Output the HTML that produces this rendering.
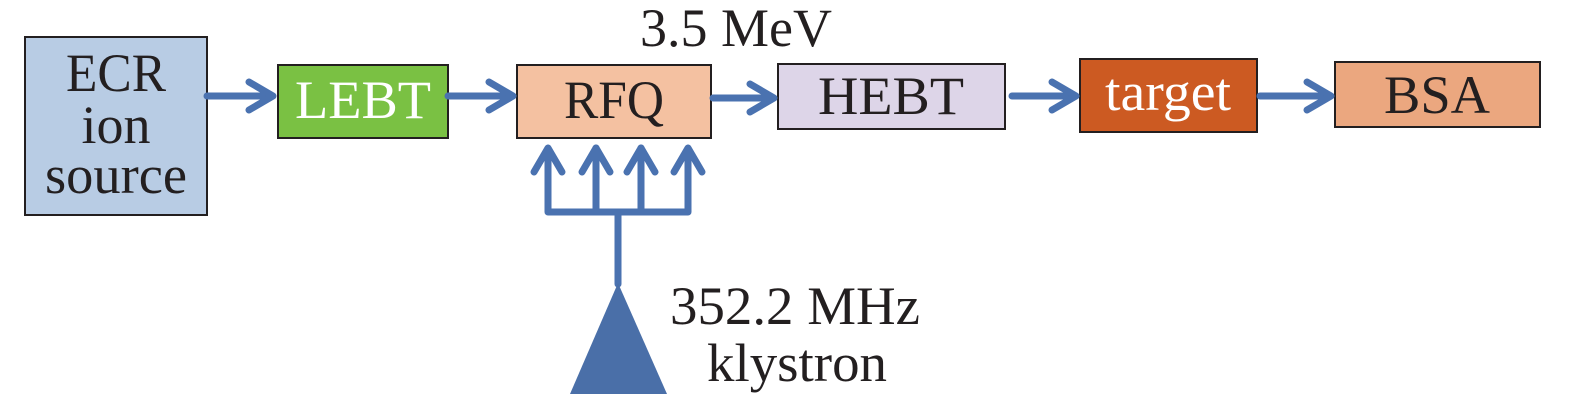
<!DOCTYPE html>
<html><head><style>
html,body{margin:0;padding:0;background:#fff;}
svg{display:block;}
</style></head><body>
<svg width="1575" height="414" viewBox="0 0 1575 414" xmlns="http://www.w3.org/2000/svg">
<g stroke="#231f20" stroke-width="2">
<rect x="25" y="37" width="182" height="178" fill="#b8cce4"/>
<rect x="278" y="65" width="170" height="73" fill="#7ac143"/>
<rect x="517" y="65" width="194" height="73" fill="#f4c1a1"/>
<rect x="778" y="64" width="227" height="65" fill="#ddd5e8"/>
<rect x="1080" y="59" width="177" height="73" fill="#cc5a22"/>
<rect x="1335" y="62" width="205" height="65" fill="#eba77f"/>
</g>
<g font-family="'Liberation Serif','Times New Roman','Noto Serif CJK SC',serif" font-size="54" text-anchor="middle" fill="#231f20">
<text x="116" y="91" textLength="100" lengthAdjust="spacingAndGlyphs">ECR</text>
<text x="116" y="143">ion</text>
<text x="116" y="193" textLength="142" lengthAdjust="spacingAndGlyphs">source</text>
<text x="363" y="118" fill="#fff" textLength="136" lengthAdjust="spacingAndGlyphs">LEBT</text>
<text x="614" y="118" textLength="100" lengthAdjust="spacingAndGlyphs">RFQ</text>
<text x="891" y="114" textLength="146" lengthAdjust="spacingAndGlyphs">HEBT</text>
<text x="1168" y="110" fill="#fff" textLength="126" lengthAdjust="spacingAndGlyphs">target</text>
<text x="1437" y="113" textLength="106" lengthAdjust="spacingAndGlyphs">BSA</text>
<text x="736" y="46" textLength="192" lengthAdjust="spacingAndGlyphs">3.5 MeV</text>
<text x="795" y="324" textLength="250" lengthAdjust="spacingAndGlyphs">352.2 MHz</text>
<text x="797" y="381" textLength="180" lengthAdjust="spacingAndGlyphs">klystron</text>
</g>
<g stroke="#4a72b0" stroke-width="7" fill="none" stroke-linecap="round" stroke-linejoin="round">
<line x1="207" y1="96" x2="272" y2="96"/><polyline points="249,82 273,96 249,110"/>
<line x1="448" y1="96" x2="512" y2="96"/><polyline points="489,82 513,96 489,110"/>
<line x1="713" y1="98" x2="772" y2="98"/><polyline points="750,84 774,98 750,112"/>
<line x1="1012" y1="96" x2="1074" y2="96"/><polyline points="1052,82 1076,96 1052,110"/>
<line x1="1260" y1="96" x2="1329" y2="96"/><polyline points="1307,82 1331,96 1307,110"/>
<polyline points="548,148 548,212 688,212 688,148" stroke-linecap="butt"/>
<line x1="596" y1="148" x2="596" y2="212"/>
<line x1="641" y1="148" x2="641" y2="212"/>
<line x1="618" y1="212" x2="618" y2="284"/>
<polyline points="534,172 548,148 562,172"/>
<polyline points="582,172 596,148 610,172"/>
<polyline points="627,172 641,148 655,172"/>
<polyline points="674,172 688,148 702,172"/>
</g>
<polygon points="618,283 570,394 667,394" fill="#4a6fa8"/>
</svg>
</body></html>
